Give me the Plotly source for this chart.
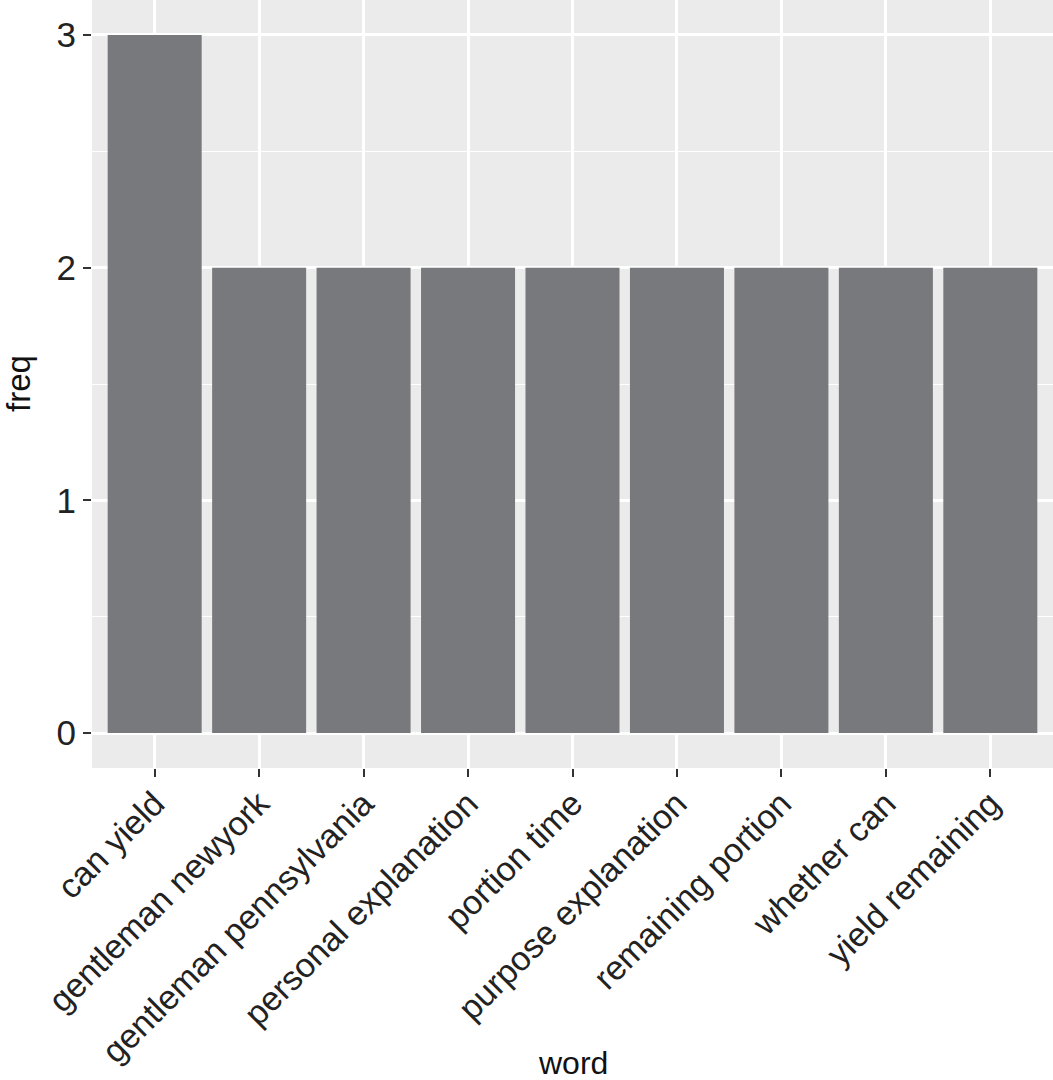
import plotly.graph_objects as go

words = ["can yield", "gentleman newyork", "gentleman pennsylvania", "personal explanation",
         "portion time", "purpose explanation", "remaining portion", "whether can", "yield remaining"]
freq = [3, 2, 2, 2, 2, 2, 2, 2, 2]
y_ticks = [0, 1, 2, 3]

FONT = "Liberation Sans, Arial, Helvetica, sans-serif"

fig = go.Figure(go.Bar(x=words, y=freq, width=0.9, marker=dict(color="#78797d", line=dict(width=0))))

fig.update_layout(
    width=1053, height=1080,
    margin=dict(l=92, r=0, t=0, b=312),
    plot_bgcolor="#EBEBEB", paper_bgcolor="white",
    font=dict(family=FONT, size=34, color="#222222"),
    showlegend=False,
    bargap=0.1,
    annotations=[
        dict(text="word", xref="paper", yref="paper", x=0.5, y=-(1063 - 768) / 768,
             xanchor="center", yanchor="middle", showarrow=False,
             font=dict(size=32, color="#111111")),
        dict(text="freq", xref="paper", yref="paper", x=-(92 - 18) / 961, y=0.5,
             xanchor="center", yanchor="middle", textangle=-90, showarrow=False,
             font=dict(size=33, color="#111111")),
    ],
)
fig.update_xaxes(
    type="category", range=[-0.6, len(words) - 0.4],
    showgrid=True, gridcolor="white", gridwidth=2.5,
    ticks="outside", ticklen=8, tickwidth=1.5, tickcolor="#333333",
    tickangle=-45, tickfont=dict(size=34, color="#222222"),
    ticklabelstandoff=-7,
    zeroline=False, showline=False, automargin=False,
)
fig.update_yaxes(
    range=[-0.15, 3.15], tickvals=y_ticks, ticktext=[str(v) for v in y_ticks],
    showgrid=True, gridcolor="white", gridwidth=2.5,
    minor=dict(tickvals=[0.5, 1.5, 2.5], showgrid=True, gridcolor="white", gridwidth=1.2, ticks=""),
    ticks="outside", ticklen=8, tickwidth=1.5, tickcolor="#333333",
    tickfont=dict(size=35, color="#222222"),
    zeroline=False, showline=False, automargin=False,
)

fig.write_html("out.html")
